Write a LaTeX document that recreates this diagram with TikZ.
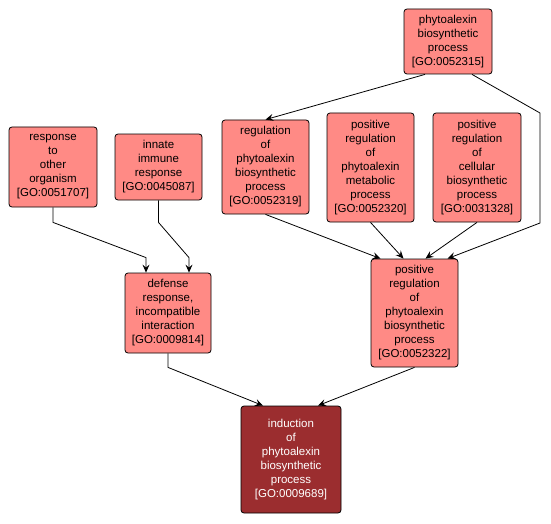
\documentclass[tikz,border=0pt]{standalone}
\usepackage{fontspec}
\setmainfont{Liberation Sans}
\usetikzlibrary{arrows, arrows.meta}
\usetikzlibrary{calc}
\definecolor{termfill}{HTML}{FF8A85}
\definecolor{hitfill}{HTML}{9B2D2F}
\begin{document}
\begin{tikzpicture}[x=1pt, y=-1pt,
    term/.style={rectangle, draw, rounded corners=3pt, line width=0.8pt, fill=termfill, align=center, inner sep=0pt, font=\fontsize{11.5}{14}\selectfont},
    hit/.style={term, fill=hitfill, text=white},
    edge/.style={draw, line width=0.8pt, -{Stealth[length=8pt, width=7pt, inset=3pt]}}]
      \useasboundingbox[fill=white] (0,0) rectangle (551,524);

      \node[term, minimum width=88pt, minimum height=80pt] (RO) at (53,167) {response\\to\\other\\organism\\{[GO:0051707]}};
      \node[term, minimum width=87pt, minimum height=66pt] (IIR) at (158.5,167) {innate\\immune\\response\\{[GO:0045087]}};
      \node[term, minimum width=86pt, minimum height=80pt] (DR) at (168,313) {defense\\response,\\incompatible\\interaction\\{[GO:0009814]}};
      \node[term, minimum width=88pt, minimum height=65pt] (PBP) at (448,41.5) {phytoalexin\\biosynthetic\\process\\{[GO:0052315]}};
      \node[term, minimum width=87pt, minimum height=94pt] (RP) at (265.5,167) {regulation\\of\\phytoalexin\\biosynthetic\\process\\{[GO:0052319]}};
      \node[term, minimum width=87pt, minimum height=109pt] (PRM) at (370.5,167.5) {positive\\regulation\\of\\phytoalexin\\metabolic\\process\\{[GO:0052320]}};
      \node[term, minimum width=88pt, minimum height=109pt] (PRC) at (477,167.5) {positive\\regulation\\of\\cellular\\biosynthetic\\process\\{[GO:0031328]}};
      \node[term, minimum width=87pt, minimum height=108pt] (PRP) at (414.5,313) {positive\\regulation\\of\\phytoalexin\\biosynthetic\\process\\{[GO:0052322]}};
      \node[hit, minimum width=100pt, minimum height=107pt] (IND) at (291,459.5) {induction\\of\\phytoalexin\\biosynthetic\\process\\{[GO:0009689]}};

      \coordinate (bend1) at (540,113);
      \coordinate (bend2) at (540,223);

      \draw[edge] (RO.south) -- ++(0,15) -- ([xshift=-22pt, yshift=15pt]DR.north) -- ([xshift=-22pt]DR.north);
      \draw[edge] (IIR.south) -- ++(0,22) -- ([xshift=21pt, yshift=15pt]DR.north) -- ([xshift=21pt]DR.north);
      \draw[edge] ([xshift=-23pt]PBP.south) -- (RP.north);
      \draw[edge] ([xshift=24pt]PBP.south) -- (bend1) -- (bend2) -- ([xshift=33pt]PRP.north);
      \draw[edge] (RP.south) -- ([xshift=-34pt]PRP.north);
      \draw[edge] (PRM.south) -- ([xshift=-11pt]PRP.north);
      \draw[edge] (PRC.south) -- ([xshift=11pt]PRP.north);
      \draw[edge] (DR.south) -- ++(0,14) -- ([xshift=-28pt]IND.north);
      \draw[edge] (PRP.south) -- ([xshift=27pt]IND.north);
    \end{tikzpicture}
\end{document}
